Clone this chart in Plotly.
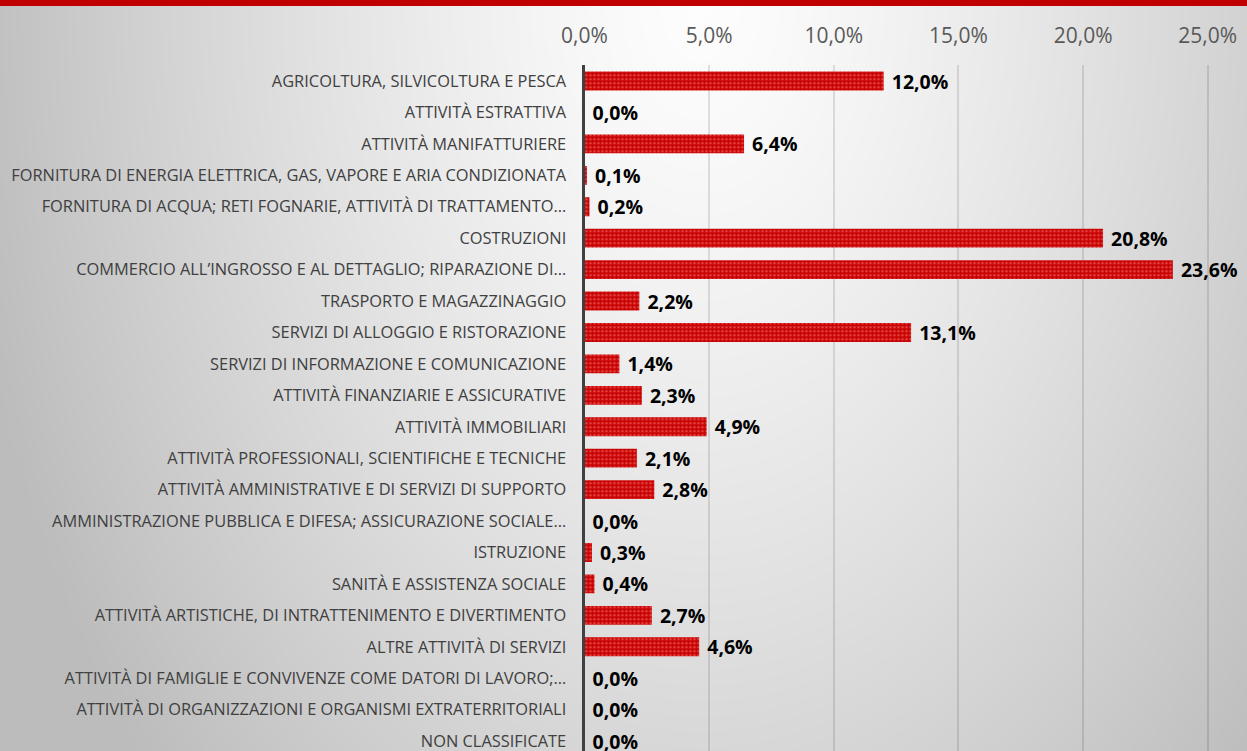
import numpy as np
import plotly.graph_objects as go

categories = [
    "AGRICOLTURA, SILVICOLTURA E PESCA",
    "ATTIVITÀ ESTRATTIVA",
    "ATTIVITÀ MANIFATTURIERE",
    "FORNITURA DI ENERGIA ELETTRICA, GAS, VAPORE E ARIA CONDIZIONATA",
    "FORNITURA DI ACQUA; RETI FOGNARIE, ATTIVITÀ DI TRATTAMENTO…",
    "COSTRUZIONI",
    "COMMERCIO ALL’INGROSSO E AL DETTAGLIO; RIPARAZIONE DI…",
    "TRASPORTO E MAGAZZINAGGIO",
    "SERVIZI DI ALLOGGIO E RISTORAZIONE",
    "SERVIZI DI INFORMAZIONE E COMUNICAZIONE",
    "ATTIVITÀ FINANZIARIE E ASSICURATIVE",
    "ATTIVITÀ IMMOBILIARI",
    "ATTIVITÀ PROFESSIONALI, SCIENTIFICHE E TECNICHE",
    "ATTIVITÀ AMMINISTRATIVE E DI SERVIZI DI SUPPORTO",
    "AMMINISTRAZIONE PUBBLICA E DIFESA; ASSICURAZIONE SOCIALE…",
    "ISTRUZIONE",
    "SANITÀ E ASSISTENZA SOCIALE",
    "ATTIVITÀ ARTISTICHE, DI INTRATTENIMENTO E DIVERTIMENTO",
    "ALTRE ATTIVITÀ DI SERVIZI",
    "ATTIVITÀ DI FAMIGLIE E CONVIVENZE COME DATORI DI LAVORO;…",
    "ATTIVITÀ DI ORGANIZZAZIONI E ORGANISMI EXTRATERRITORIALI",
    "NON CLASSIFICATE",
]
values = [12.0, 0.0, 6.4, 0.1, 0.2, 20.8, 23.6, 2.2, 13.1, 1.4, 2.3, 4.9,
          2.1, 2.8, 0.0, 0.3, 0.4, 2.7, 4.6, 0.0, 0.0, 0.0]
tick_values = [0, 5, 10, 15, 20, 25]
tick_labels = ["0,0%", "5,0%", "10,0%", "15,0%", "20,0%", "25,0%"]

labels = ["\u00a0" + f"{v:.1f}".replace(".", ",") + "%" for v in values]

W, H = 1247, 751

# background radial gradient (styling only)
gx = np.linspace(-20, W + 20, 64)
gy = np.linspace(-20, H + 20, 40)
XX, YY = np.meshgrid(gx, gy)
t = np.sqrt(((XX - 700) / 720.0) ** 2 + (YY / 1100.0) ** 2)
Z = np.clip(253 - 62 * t ** 1.3, 188, 253)

fig = go.Figure()
fig.add_trace(go.Heatmap(
    x=gx, y=gy, z=Z, zmin=0, zmax=255, zsmooth="best",
    colorscale=[[0, "rgb(0,0,0)"], [1, "rgb(255,255,255)"]],
    showscale=False, hoverinfo="skip", xaxis="x", yaxis="y",
))

fig.add_trace(go.Bar(
    y=categories, x=values, orientation="h",
    xaxis="x2", yaxis="y2",
    marker=dict(color="#c80000", line=dict(width=0),
                pattern=dict(shape=".", fgcolor="#ff8c8c", size=4, solidity=0.35)),
    text=labels, textposition="outside", cliponaxis=False, constraintext="none",
    textfont=dict(family="Open Sans", size=19.5, color="#000000", weight="bold"),
    hoverinfo="skip",
))

x0_px = 584.5
px_per_unit = 24.93
xmax = (W - x0_px) / px_per_unit
top_px = 65.3
band = 31.43
ybottom = -0.5 + (H - top_px) / band

fig.update_layout(
    width=W, height=H, autosize=False,
    margin=dict(l=0, r=0, t=0, b=0, pad=0),
    paper_bgcolor="#e6e6e6", plot_bgcolor="rgba(0,0,0,0)",
    showlegend=False, bargap=0.4,
    xaxis=dict(domain=[0, 1], range=[0, W], visible=False, fixedrange=True),
    yaxis=dict(domain=[0, 1], range=[H, 0], visible=False, fixedrange=True),
    xaxis2=dict(
        domain=[x0_px / W, 1], range=[0, xmax], anchor="y2", side="top",
        tickvals=tick_values, ticktext=tick_labels, showgrid=True,
        gridcolor="rgba(0,0,0,0.11)", gridwidth=1.5, zeroline=False,
        tickfont=dict(family="Open Sans", size=21, color="#595959"),
        ticks="", ticklabelstandoff=17, automargin=False, showline=False,
        fixedrange=True,
    ),
    yaxis2=dict(
        domain=[0, (H - top_px) / H], anchor="x2", type="category",
        categoryorder="array", categoryarray=categories,
        range=[ybottom, -0.5], showgrid=False, zeroline=False,
        showline=True, linecolor="#404040", linewidth=3,
        tickfont=dict(family="Open Sans", size=16.4, color="#404040"),
        ticks="", ticklabelstandoff=12, automargin=False, fixedrange=True,
    ),
    shapes=[dict(type="rect", xref="paper", yref="paper", x0=0, x1=1,
                 y0=1 - 6 / H, y1=1, fillcolor="#c00000", line=dict(width=0),
                 layer="above")],
)

fig.write_html(
    "out.html",
    config={"displayModeBar": False},
    post_script="document.body.style.margin='0';document.body.style.overflow='hidden';",
)
